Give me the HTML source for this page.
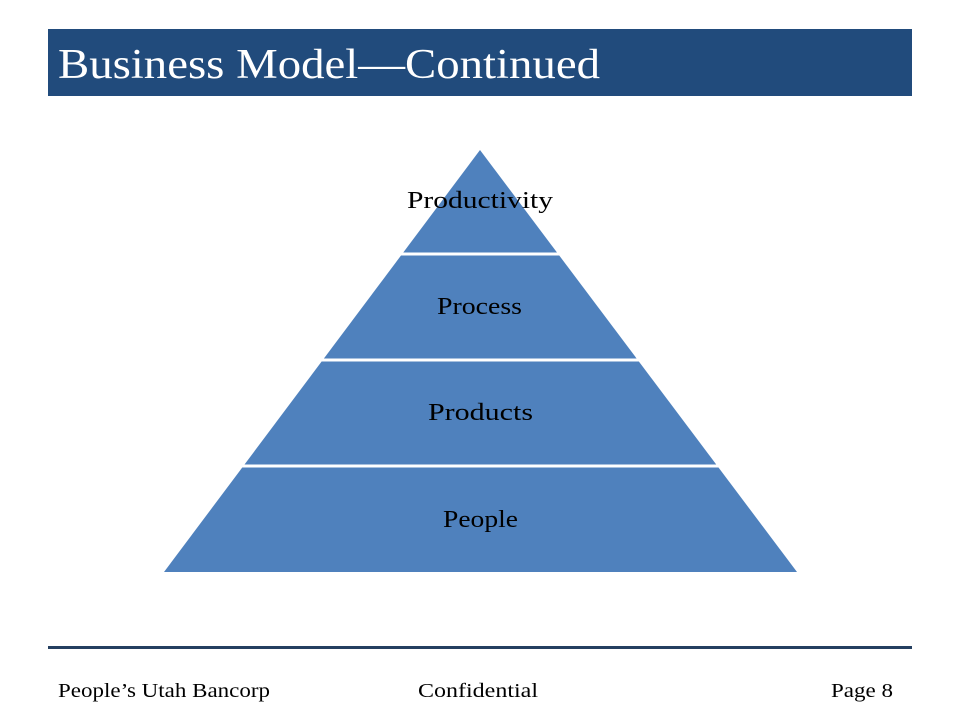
<!DOCTYPE html>
<html><head><meta charset="utf-8"><style>
html,body{margin:0;padding:0;background:#fff;}
body{width:960px;height:720px;overflow:hidden;}
</style></head><body>
<svg width="960" height="720" viewBox="0 0 960 720" xmlns="http://www.w3.org/2000/svg">
<rect x="48" y="29" width="864" height="67" fill="#214b7c"/>
<text x="58" y="78" font-family="Liberation Serif, serif" font-size="42" fill="#fff" textLength="542" lengthAdjust="spacingAndGlyphs">Business Model—Continued</text>
<polygon points="480,150 797,572 164,572" fill="#4f81bd"/>
<g stroke="#fff" stroke-width="3">
<line x1="395" y1="254" x2="565" y2="254"/>
<line x1="315" y1="360" x2="645" y2="360"/>
<line x1="236" y1="466" x2="724" y2="466"/>
</g>
<g font-family="Liberation Serif, serif" font-size="24" fill="#000" lengthAdjust="spacingAndGlyphs">
<text x="407" y="208" textLength="146" lengthAdjust="spacingAndGlyphs">Productivity</text>
<text x="437" y="314" textLength="85" lengthAdjust="spacingAndGlyphs">Process</text>
<text x="428" y="420" textLength="105" lengthAdjust="spacingAndGlyphs">Products</text>
<text x="443" y="527" textLength="75" lengthAdjust="spacingAndGlyphs">People</text>
</g>
<rect x="48" y="646" width="864" height="3" fill="#243f60"/>
<g font-family="Liberation Serif, serif" font-size="20" fill="#000">
<text x="58" y="697" textLength="212" lengthAdjust="spacingAndGlyphs">People’s Utah Bancorp</text>
<text x="418" y="697" textLength="120" lengthAdjust="spacingAndGlyphs">Confidential</text>
<text x="831" y="697" textLength="62" lengthAdjust="spacingAndGlyphs">Page 8</text>
</g>
</svg>
</body></html>
